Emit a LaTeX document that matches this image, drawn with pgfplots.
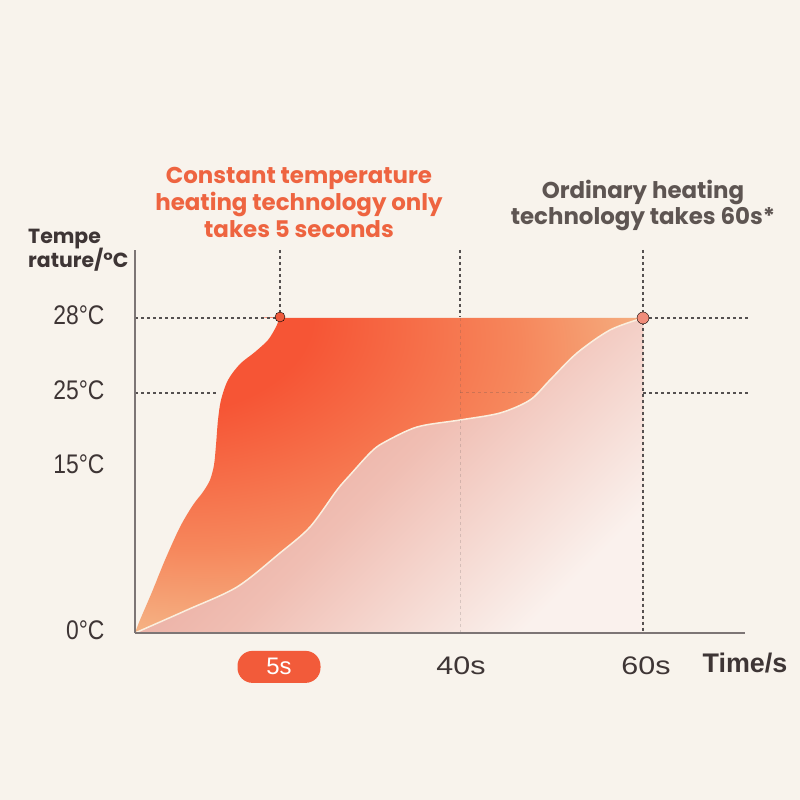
\documentclass[border=0pt]{standalone}
\usepackage{fontspec}
\usepackage{pgfplots}
\pgfplotsset{compat=1.18}
\setmainfont{Poppins}
\newfontfamily\narrowfont{Liberation Sans}[FakeStretch=0.85]
\newfontfamily\widefont{Liberation Sans}[FakeStretch=1.2]
\newfontfamily\plainsans{Liberation Sans}
\definecolor{bgcol}{HTML}{F8F3EC}
\definecolor{titlered}{HTML}{EE6440}
\definecolor{pillred}{HTML}{F25B3A}
\definecolor{darktext}{HTML}{3E3535}
\definecolor{graytitle}{HTML}{5E5552}
\definecolor{axisgray}{HTML}{7D7575}
\definecolor{dashcol}{HTML}{555050}
\definecolor{upred}{HTML}{F65535}
\definecolor{upmid}{HTML}{F6875C}
\definecolor{uppeach}{HTML}{F4BF90}
\definecolor{uppeachb}{HTML}{F4C8A0}
\definecolor{lowA}{HTML}{E69E92}
\definecolor{lowM}{HTML}{F0BEB3}
\definecolor{lowB}{HTML}{FAF1ED}
\definecolor{creamline}{HTML}{FBEFDF}
\definecolor{dotred}{HTML}{EF5A3C}
\definecolor{dotpink}{HTML}{F08C7A}
\pgfdeclareradialshading{upshade}{\pgfpoint{-28bp}{30bp}}{color(0bp)=(upred);color(16bp)=(upred);color(32bp)=(upmid);color(46bp)=(uppeach);color(100bp)=(uppeachb)}
\begin{document}
\begin{tikzpicture}
\fill[bgcol] (0,0) rectangle (800bp,800bp);
\begin{axis}[
  at={(135bp,167bp)}, anchor=south west,
  scale only axis, width=610bp, height=383bp,
  xmin=135, xmax=745, ymin=0, ymax=383,
  clip=false,
  axis x line*=bottom, axis y line*=left,
  axis line style={-, draw=axisgray, line width=1.5bp},
  axis on top,
  major tick length=0pt,
  xtick={461,646}, xticklabels={40s,60s},
  extra x ticks={279}, extra x tick labels={5s},
  extra x tick style={xticklabel style={font=\plainsans\fontsize{24}{24}\selectfont, fill=pillred, text=white, rounded corners=15bp, minimum width=83bp, minimum height=32bp}},
  xticklabel style={font=\widefont\fontsize{25.5}{25.5}\selectfont, text=darktext, anchor=base, yshift=-42bp},
  ytick={0,166,240,315}, yticklabels={0°C,15°C,25°C,28°C},
  yticklabel style={font=\narrowfont\fontsize{27}{27}\selectfont, text=darktext, anchor=east, xshift=-27bp, yshift=3bp},
]
% upper region (fast heating)
\addplot[draw=none, shade, shading=upshade, smooth] coordinates {
(135,0)(140,13)(152,41)(165,73)(180,106)(193,128)(203,141)(210,153)(214,168)(216,188)(218,213)(221,233)(228,253)(240,269)(255,281)(268,293)(276,306)(280,315)(286,315)(643,315)
} \closedcycle;
% lower region (ordinary heating)
\addplot[draw=none, top color=lowA, bottom color=lowB, middle color=lowM, shading angle=45, smooth] coordinates {
(135,0)(187,23)(237,46)(280,80)(310,106)(337,143)(350,158)(370,180)(383,190)(417,206)(460,213)(500,220)(530,233)(550,253)(577,280)(610,303)(643,315)
} \closedcycle;
\addplot[creamline, line width=1.5bp, smooth] coordinates {
(135,0)(187,23)(237,46)(280,80)(310,106)(337,143)(350,158)(370,180)(383,190)(417,206)(460,213)(500,220)(530,233)(550,253)(577,280)(610,303)(643,315)
};
% dashed guide lines
\addplot[dashcol, line width=1.2bp, dash pattern=on 3bp off 3bp] coordinates {(135,315)(280,315)};
\addplot[dashcol, line width=1.2bp, dash pattern=on 3bp off 3bp] coordinates {(643,315)(748,315)};
\addplot[dashcol, line width=1.2bp, dash pattern=on 3bp off 3bp] coordinates {(135,240)(219,240)};
\addplot[dashcol, line width=1.2bp, dash pattern=on 3bp off 3bp] coordinates {(643,240)(748,240)};
\addplot[dashcol, line width=1bp, dash pattern=on 3bp off 3bp, opacity=0.25] coordinates {(460,240)(535,240)};
\addplot[dashcol, line width=1.2bp, dash pattern=on 3bp off 3bp] coordinates {(280,383)(280,316)};
\addplot[dashcol, line width=1.2bp, dash pattern=on 3bp off 3bp] coordinates {(460,383)(460,316)};
\addplot[dashcol, line width=1bp, dash pattern=on 3bp off 3bp, opacity=0.2] coordinates {(460,315)(460,0)};
\addplot[dashcol, line width=1.2bp, dash pattern=on 3bp off 3bp] coordinates {(643,383)(643,0)};
% dots
\addplot[only marks, mark=*, mark size=5bp, mark options={draw=none, fill=dotred}] coordinates {(280,316)};
\addplot[only marks, mark=*, mark size=6bp, mark options={draw=none, fill=dotpink}] coordinates {(643,315)};
\end{axis}
\node[align=center, anchor=base, font=\bfseries\fontsize{23}{27.5}\selectfont, text=titlered] at (299bp,562bp) {Constant temperature\\heating technology only\\takes 5 seconds};
\node[align=center, anchor=base, font=\bfseries\fontsize{23}{27}\selectfont, text=graytitle] at (643bp,575bp) {Ordinary heating\\technology takes 60s*};
\node[align=left, anchor=base west, font=\bfseries\fontsize{20.5}{25}\selectfont, text=darktext, inner sep=0pt] at (28bp,532bp) {Tempe\\rature/°C};
\node[font=\plainsans\bfseries\fontsize{27}{27}\selectfont, text=darktext, anchor=base, inner sep=0pt] at (745bp,127bp) {Time/s};
\end{tikzpicture}
\end{document}
